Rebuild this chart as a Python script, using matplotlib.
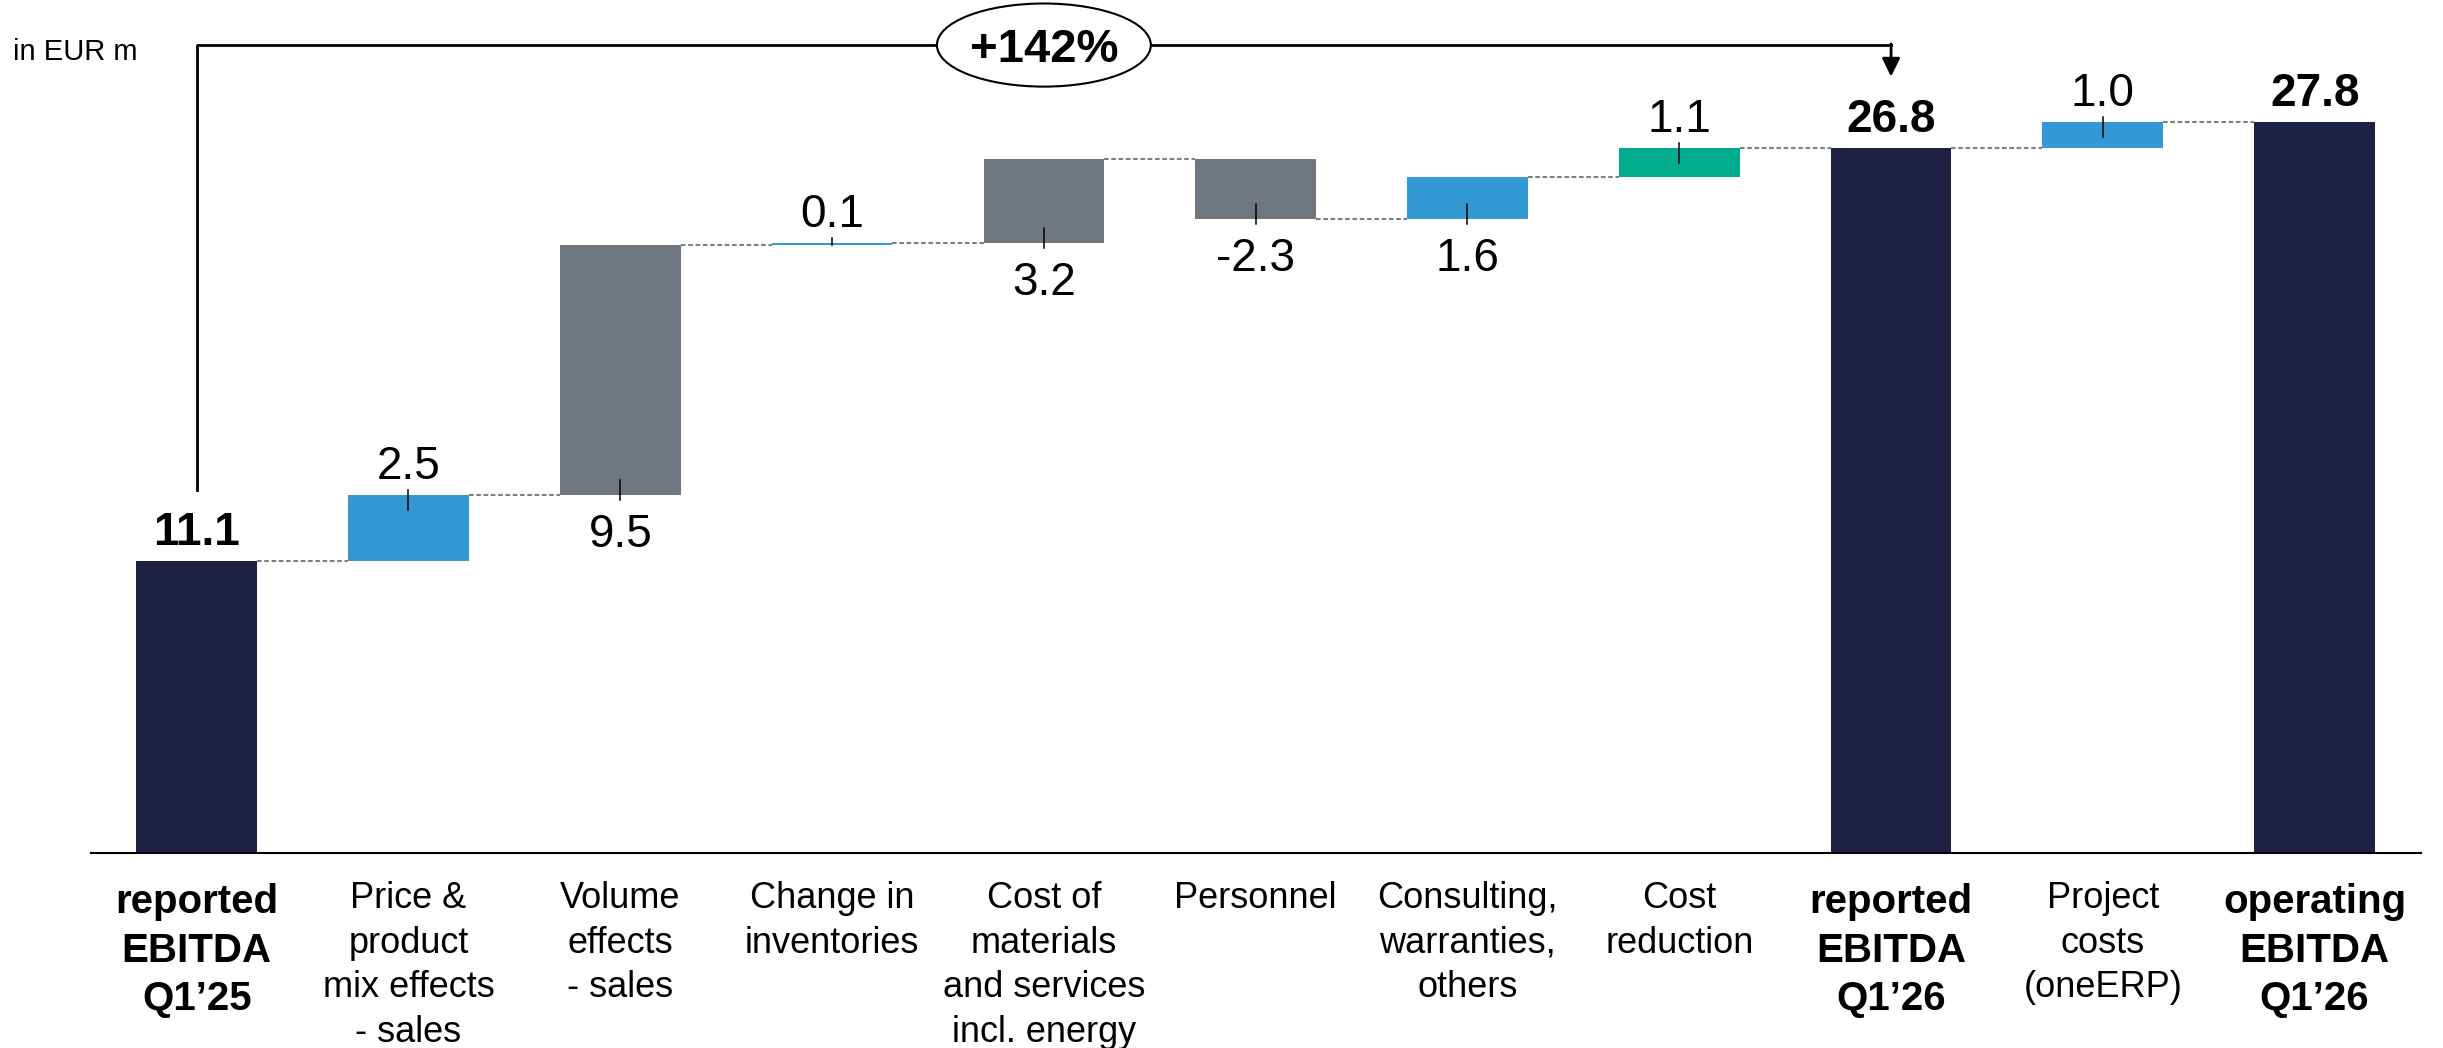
import numpy as np
import matplotlib.pyplot as plt
from matplotlib.patches import Ellipse

plt.rcParams['font.family'] = ['Liberation Sans', 'DejaVu Sans']

# data
categories = [
    "reported\nEBITDA\nQ1\u201925",
    "Price &\nproduct\nmix effects\n- sales",
    "Volume\neffects\n- sales",
    "Change in\ninventories",
    "Cost of\nmaterials\nand services\nincl. energy",
    "Personnel",
    "Consulting,\nwarranties,\nothers",
    "Cost\nreduction",
    "reported\nEBITDA\nQ1\u201926",
    "Project\ncosts\n(oneERP)",
    "operating\nEBITDA\nQ1\u201926",
]
values = [11.1, 2.5, 9.5, 0.1, 3.2, -2.3, 1.6, 1.1, 26.8, 1.0, 27.8]
is_total = [True, False, False, False, False, False, False, False, True, False, True]
growth_label = "+142%"

# styles
NAVY = "#1E2044"
BLUE = "#3399D5"
GREY = "#71777F"
GREEN = "#00AB8E"
colors = [NAVY, BLUE, GREY, BLUE, GREY, GREY, BLUE, GREEN, NAVY, BLUE, NAVY]
label_above = [True, True, False, True, False, False, False, True, True, True, True]

# waterfall geometry from the values
bottoms, tops = [], []
level = 0.0
for v, tot in zip(values, is_total):
    if tot:
        bottoms.append(0.0)
        tops.append(v)
        level = v
    else:
        bottoms.append(level)
        tops.append(level + v)
        level = level + v
lo = np.minimum(bottoms, tops)
hi = np.maximum(bottoms, tops)
ends = [t for t in tops]

fig = plt.figure(figsize=(24.43, 10.48), dpi=100)
ax = fig.add_axes([0, 0, 1, 1])
ax.axis('off')
ax.set_xlim(-0.9287, 10.606)
ax.set_ylim(-7.414, 32.433)

x = np.arange(len(values))
width = 0.57
ax.bar(x, hi - lo, bottom=lo, width=width, color=colors, zorder=2)

# baseline
ax.plot([-0.5, len(values) - 0.5], [0, 0], color='black', lw=1.5, zorder=3)

# connectors
for i in range(len(values) - 1):
    ax.plot([i + width / 2, i + 1 - width / 2], [ends[i], ends[i]],
            color='#808080', lw=1.5, ls=(0, (2.2, 1.3)), zorder=1)

# value labels and ticks
px = 26.3  # pixels per unit
for i, v in enumerate(values):
    h = hi[i] - lo[i]
    txt = f"{v:.1f}"
    if is_total[i]:
        ax.annotate(txt, (i, hi[i]), xytext=(0, 11.5), textcoords='offset points',
                    ha='center', va='baseline', fontsize=33, fontweight='bold')
        continue
    inner = min(h, 15 / px)
    outer = 5 / px
    if label_above[i]:
        ax.plot([i, i], [hi[i] - inner, hi[i] + outer], color='black', lw=1.1, zorder=3)
        ax.annotate(txt, (i, hi[i]), xytext=(0, 11.5), textcoords='offset points',
                    ha='center', va='baseline', fontsize=33)
    else:
        ax.plot([i, i], [lo[i] + inner, lo[i] - outer], color='black', lw=1.1, zorder=3)
        ax.annotate(txt, (i, lo[i]), xytext=(0, -13), textcoords='offset points',
                    ha='center', va='top', fontsize=33)

# category labels
for i, c in enumerate(categories):
    if is_total[i]:
        ax.annotate(c, (i, 0), xytext=(0, -21.5), textcoords='offset points',
                    ha='center', va='top', fontsize=29, fontweight='bold',
                    linespacing=1.36)
    else:
        ax.annotate(c, (i, 0), xytext=(0, -20), textcoords='offset points',
                    ha='center', va='top', fontsize=26, linespacing=1.36)

# growth bracket from first total to second total
first, second = 0, 8
y_top = 30.72
gap = 2.72
ax.plot([first, first, second], [tops[first] + gap, y_top, y_top],
        color='black', lw=2, zorder=3)
ax.annotate('', xy=(second, tops[second] + gap), xytext=(second, y_top + 0.04),
            arrowprops=dict(arrowstyle='-|>,head_length=0.55,head_width=0.27',
                            mutation_scale=20, color='black', lw=2,
                            shrinkA=0, shrinkB=0), zorder=3)
mid = (first + second) / 2
ax.add_patch(Ellipse((mid, y_top), 1.01, 3.16, facecolor='white',
                     edgecolor='black', lw=1.5, zorder=4))
ax.text(mid, y_top, growth_label, ha='center', va='center_baseline',
        fontsize=34, fontweight='bold', zorder=5)

fig.text(13 / 2443, 1 - 60 / 1048, "in EUR m", fontsize=21, ha='left', va='baseline')

fig.savefig("out.png", dpi=100)
